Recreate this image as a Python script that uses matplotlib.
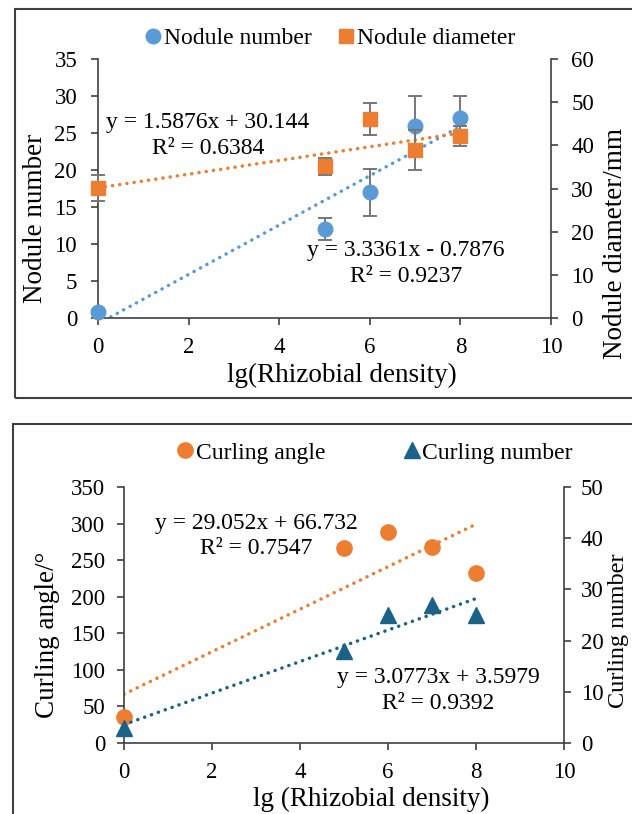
import numpy as np
import matplotlib
matplotlib.use("Agg")
import matplotlib.pyplot as plt
from matplotlib.lines import Line2D
from matplotlib.patches import Rectangle

plt.rcParams['font.family'] = ['Liberation Serif', 'DejaVu Serif']

# ---- data ----
density = [0, 5, 6, 7, 8]

nodule_number = [0.8, 12, 17, 26, 27]
nodule_number_err = [0.3, 1.5, 3.2, 4.0, 3.0]
nodule_diameter = [30.1, 35.1, 46.2, 38.9, 42.2]
nodule_diameter_err = [3.0, 1.9, 3.7, 4.7, 2.3]

curling_angle = [35, 266, 288, 268, 232]
curling_number = [3, 18, 25, 27, 25]

# trendline coefficients (slope, intercept) as printed on the chart
fit_number = (3.3361, -0.7876)
fit_diameter = (1.5876, 30.144)
fit_angle = (29.052, 66.732)
fit_curl_number = (3.0773, 3.5979)

BLUE = "#5B9BD5"
ORANGE = "#ED7D31"
TEAL = "#1B6287"
GREY = "#767676"
AXC = "#404040"

W, H = 632, 814
fig = plt.figure(figsize=(W / 100, H / 100), dpi=100)


def px_axes(left, right, top, bottom):
    ax = fig.add_axes([left / W, 1 - bottom / H, (right - left) / W, (bottom - top) / H])
    ax.px_box = (left, right, top, bottom)
    return ax


def to_axes(ax, px, py):
    l, r, t, b = ax.px_box
    return (px - l) / (r - l), (b - py) / (b - t)


def style_axes(ax, ax2, pad_left, pad_right):
    for a in (ax, ax2):
        a.spines['top'].set_visible(False)
        for s in a.spines.values():
            s.set_color(AXC)
            s.set_linewidth(1.2)
        a.tick_params(direction='out', length=5, width=1.2, color=AXC, labelsize=16.5)
    ax.tick_params(axis='x', pad=8.5)
    ax.tick_params(axis='y', pad=pad_left)
    ax2.tick_params(axis='y', pad=pad_right)
    ax.spines['right'].set_visible(False)
    ax2.spines['left'].set_visible(False)
    ax2.spines['bottom'].set_visible(False)
    ax.set_xlim(0, 10)
    ax.set_xticks(range(0, 11, 2))


def place_label(ax, axis, px, py):
    lab = axis.label
    axis.set_label_coords(*to_axes(ax, px, py))
    lab.set_va('center')
    lab.set_ha('center')


def trend(ax, fit, color):
    x = np.array([0, 8])
    ax.plot(x, fit[0] * x + fit[1], color=color, lw=2.5, linestyle=(0, (0.05, 2.05)),
            dash_capstyle='round', zorder=2)


# ---- panel boxes ----
fig.patches.append(Rectangle((15 / W, 1 - 398 / H), 700 / W, 389 / H, transform=fig.transFigure,
                             fill=False, ec=AXC, lw=1.5))
fig.patches.append(Rectangle((13 / W, -0.1), 700 / W, 1 - 424 / H + 0.1, transform=fig.transFigure,
                             fill=False, ec=AXC, lw=1.5))

# ---- top panel ----
ax1 = px_axes(98, 551, 59, 318)
ax1b = ax1.twinx()
ax1b.px_box = ax1.px_box
style_axes(ax1, ax1b, 10, 9.5)
ax1.set_ylim(0, 35)
ax1.set_yticks(range(0, 36, 5))
ax1b.set_ylim(0, 60)
ax1b.set_yticks(range(0, 61, 10))

trend(ax1, fit_number, BLUE)
trend(ax1b, fit_diameter, ORANGE)
ax1.errorbar(density, nodule_number, yerr=nodule_number_err, fmt='o', ms=10.5, color=BLUE,
             ecolor=GREY, elinewidth=1.4, capsize=5, capthick=1.4, zorder=3, clip_on=False)
ax1b.errorbar(density, nodule_diameter, yerr=nodule_diameter_err, fmt='s', ms=10.5, color=ORANGE,
              ecolor=GREY, elinewidth=1.4, capsize=5, capthick=1.4, zorder=3, clip_on=False)

ax1b.text(2.43, 42.2, "y = 1.5876x + 30.144\nR\u00b2 = 0.6384", fontsize=17, ha='center', va='center',
          linespacing=1.3)
ax1.text(6.8, 7.4, "y = 3.3361x - 0.7876\nR\u00b2 = 0.9237", fontsize=17, ha='center', va='center',
         linespacing=1.3)

ax1.set_xlabel("lg(Rhizobial density)", fontsize=19.5)
ax1.set_ylabel("Nodule number", fontsize=19.5)
ax1b.set_ylabel("Nodule diameter/mm", fontsize=19.5)
place_label(ax1, ax1.xaxis, 342, 375)
place_label(ax1, ax1.yaxis, 36, 218)
place_label(ax1b, ax1b.yaxis, 615, 243)

h1 = [Line2D([], [], marker='o', ls='none', color=BLUE, ms=10.5),
      Line2D([], [], marker='s', ls='none', color=ORANGE, ms=10.5)]
fig.legend(h1, ["Nodule number", "Nodule diameter"], loc='center', ncol=2, frameon=False,
           bbox_to_anchor=(330 / W, 1 - 38 / H), fontsize=17, handlelength=0.7,
           handletextpad=0.1, columnspacing=1.1)

# ---- bottom panel ----
ax2 = px_axes(124, 564, 487, 743)
ax2b = ax2.twinx()
ax2b.px_box = ax2.px_box
style_axes(ax2, ax2b, 8.5, 7)
ax2.set_ylim(0, 350)
ax2.set_yticks(range(0, 351, 50))
ax2b.set_ylim(0, 50)
ax2b.set_yticks(range(0, 51, 10))

trend(ax2, fit_angle, ORANGE)
trend(ax2b, fit_curl_number, TEAL)
ax2.plot(density, curling_angle, 'o', ms=11, color=ORANGE, zorder=3, clip_on=False)
ax2b.plot(density, curling_number, '^', ms=11, color=TEAL, zorder=3, clip_on=False)

ax2.text(3.0, 283, "y = 29.052x + 66.732\nR\u00b2 = 0.7547", fontsize=17, ha='center', va='center',
         linespacing=1.3)
ax2.text(7.15, 72, "y = 3.0773x + 3.5979\nR\u00b2 = 0.9392", fontsize=17, ha='center', va='center',
         linespacing=1.3)

ax2.set_xlabel("lg (Rhizobial density)", fontsize=19.5)
ax2.set_ylabel("Curling angle/\u00b0", fontsize=19.5)
ax2b.set_ylabel("Curling number", fontsize=17.5)
place_label(ax2, ax2.xaxis, 371, 799)
place_label(ax2, ax2.yaxis, 48, 635)
place_label(ax2b, ax2b.yaxis, 618.5, 631)

h2 = [Line2D([], [], marker='o', ls='none', color=ORANGE, ms=11),
      Line2D([], [], marker='^', ls='none', color=TEAL, ms=11)]
fig.legend(h2, ["Curling angle", "Curling number"], loc='center', ncol=2, frameon=False,
           bbox_to_anchor=(375 / W, 1 - 453 / H), fontsize=17, handlelength=0.7,
           handletextpad=0.1, columnspacing=3.3)

fig.savefig("out.png", dpi=100)
